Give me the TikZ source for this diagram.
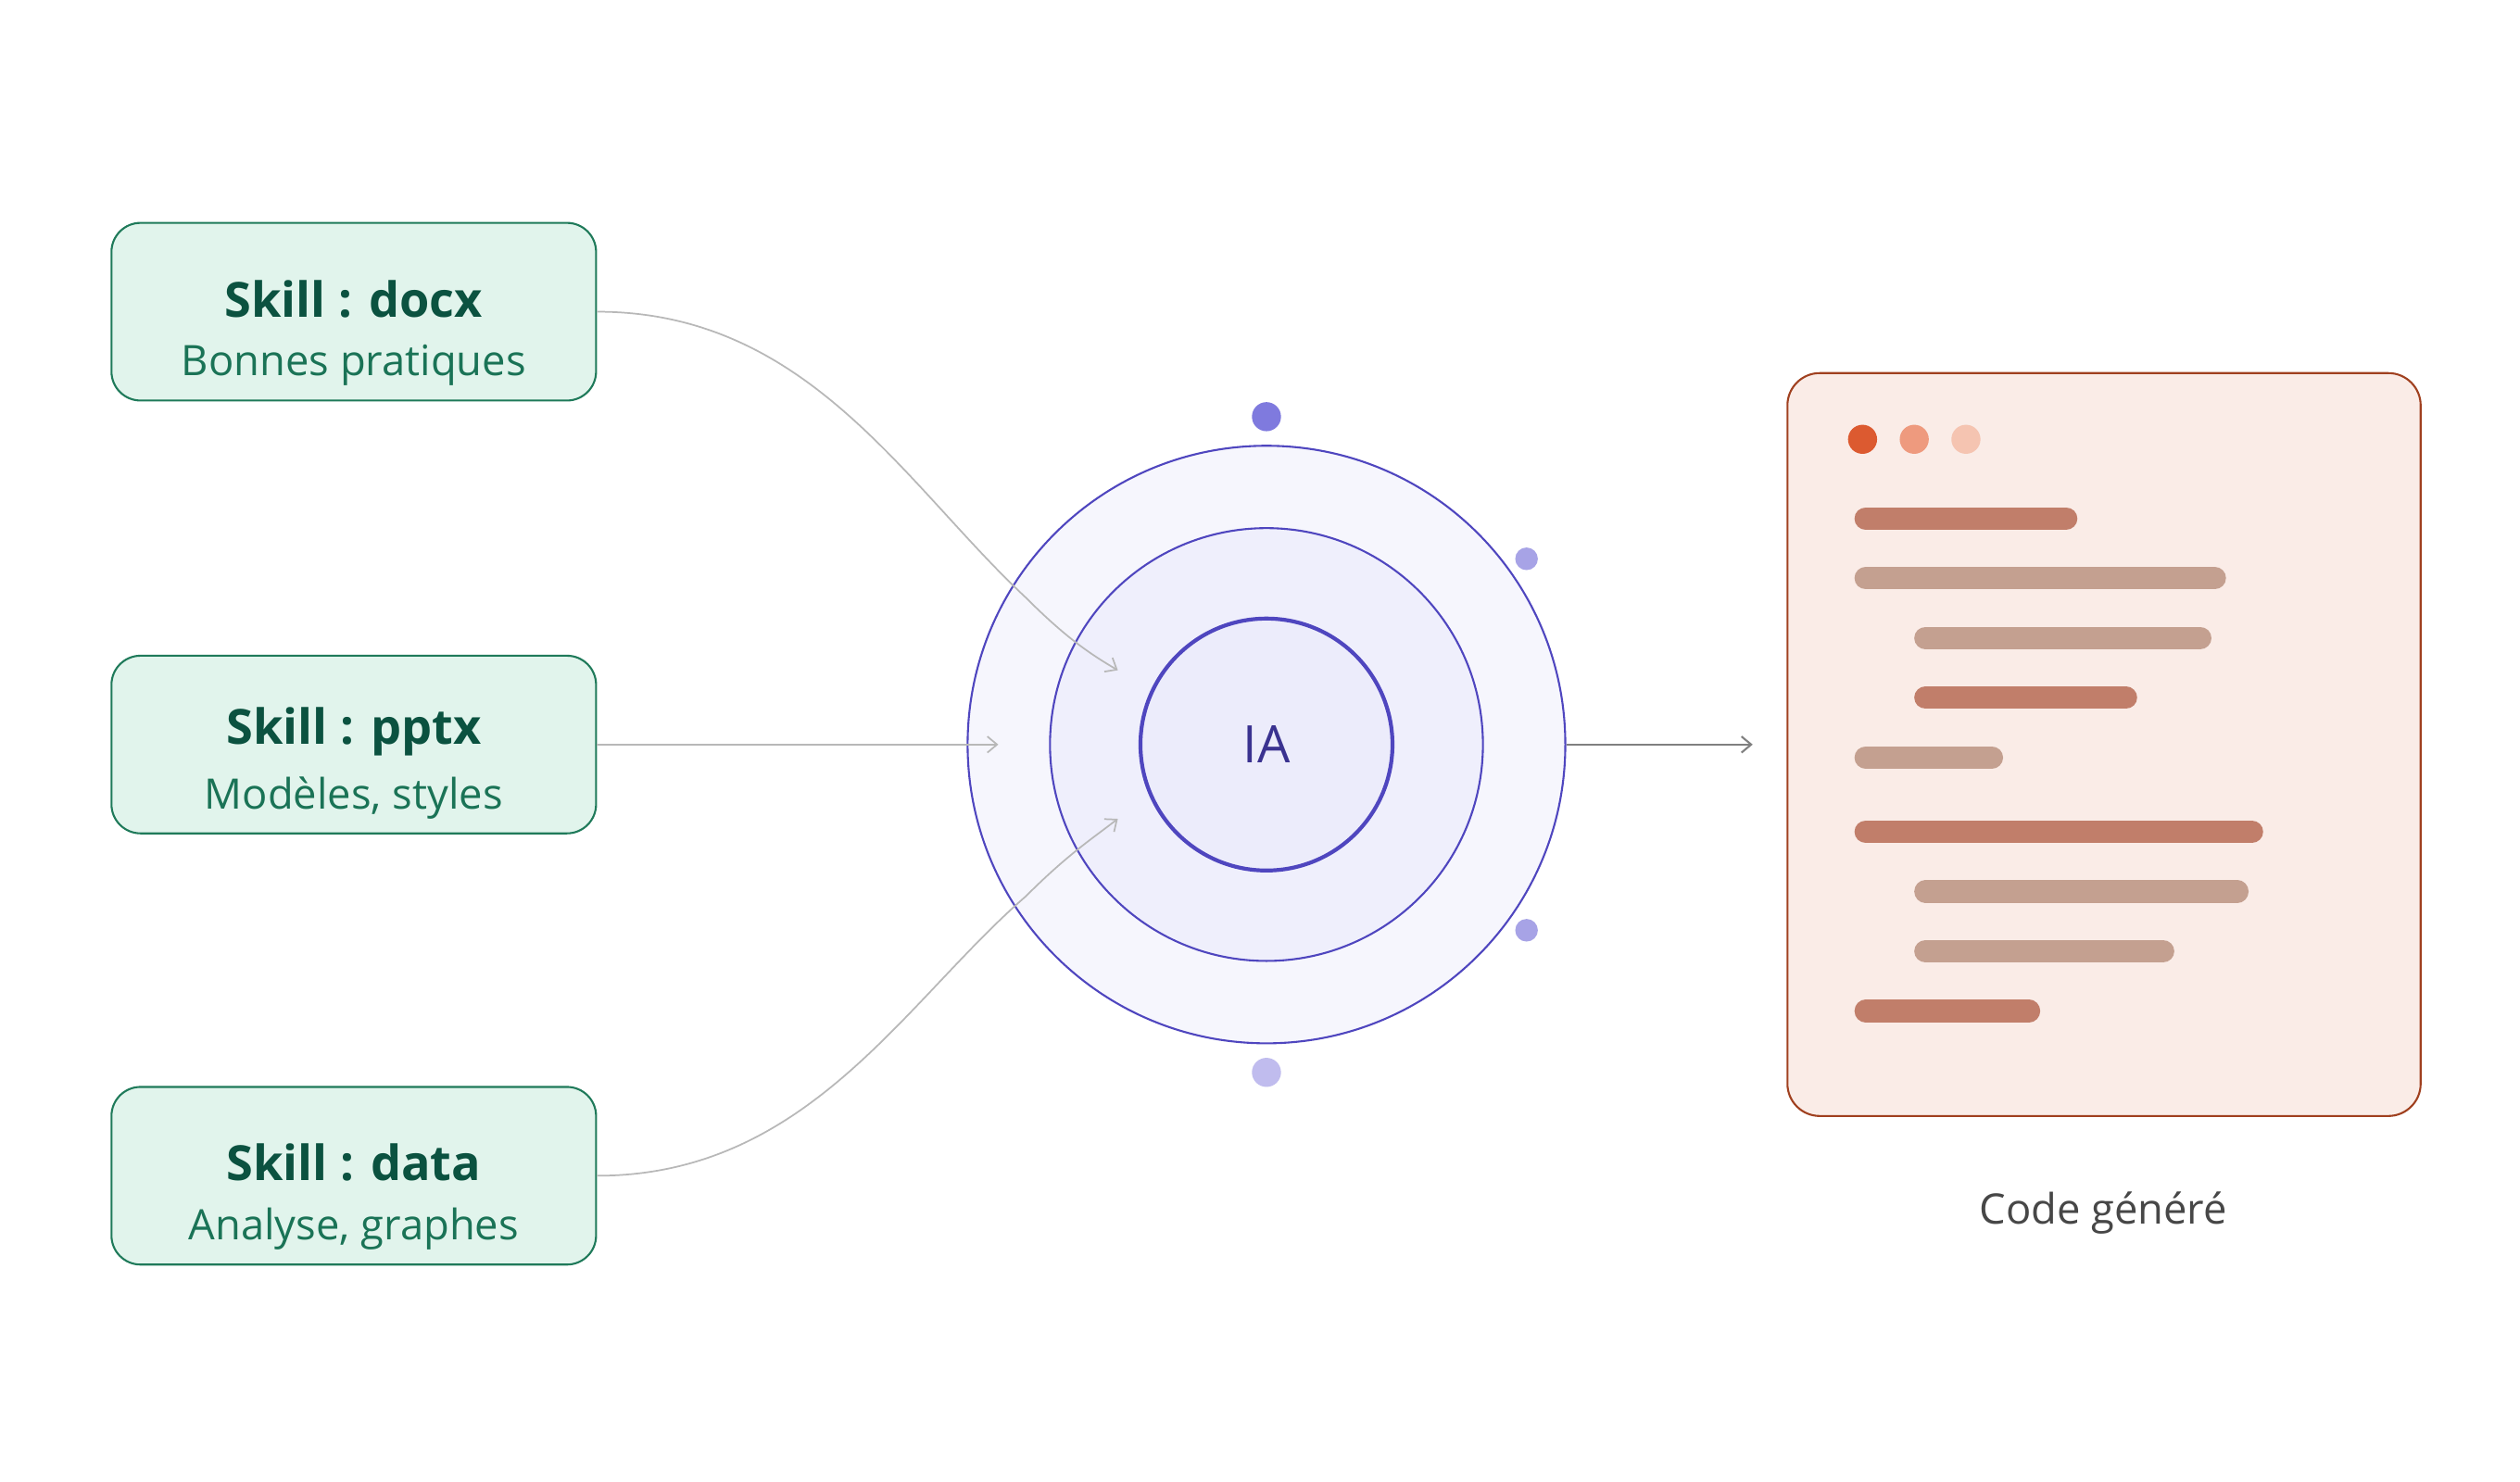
\documentclass[tikz,border=0pt]{standalone}
\usepackage{fontspec}
\setmainfont{Open Sans}
\usetikzlibrary{arrows.meta}
\definecolor{gfill}{HTML}{E1F4EC}\definecolor{gdraw}{HTML}{1F7A5A}
\definecolor{gtitle}{HTML}{0B5240}\definecolor{gsub}{HTML}{1A7356}
\definecolor{c1}{HTML}{F6F6FD}\definecolor{c2}{HTML}{EFEFFC}\definecolor{c3}{HTML}{ECECFB}
\definecolor{cd}{HTML}{4F46BF}\definecolor{ctext}{HTML}{3A3290}
\definecolor{d1}{HTML}{7F7ADE}\definecolor{d2}{HTML}{A7A3E6}\definecolor{d3}{HTML}{C0BCEE}
\definecolor{wfill}{HTML}{FAECE7}\definecolor{wdraw}{HTML}{A0401F}
\definecolor{b1}{HTML}{DC5A30}\definecolor{b2}{HTML}{EE9A7E}\definecolor{b3}{HTML}{F5C4B1}
\definecolor{bd}{HTML}{C17E6A}\definecolor{bl}{HTML}{C4A090}
\begin{document}
\begin{tikzpicture}[x=0.5pt,y=-0.5pt,
 skill/.style={draw=gdraw,fill=gfill,rounded corners=9pt,minimum width=150pt,minimum height=55pt,line width=0.6pt},
 conn/.style={draw=black!28,line width=0.5pt,-{Straight Barb[length=3pt,width=5pt]}},
 bar/.style={line width=7pt,line cap=round},
 dot/.style={circle,inner sep=0pt}]
\useasboundingbox[fill=white] (0,0) rectangle (1560,917.6);
\foreach \n/\y/\t/\s in {docx/193/docx/Bonnes pratiques, pptx/461/pptx/{Modèles, styles}, data/728/data/{Analyse, graphes}}{
 \node[skill] (\n) at (219,\y) {};
 \node[text=gtitle,font=\fontsize{15}{18}\selectfont\bfseries] at (219,\y-8) {Skill : \t};
 \node[text=gsub,font=\fontsize{13}{16}\selectfont] at (219,\y+33) {\s};
}
\node[circle,draw=cd,fill=c1,minimum size=185pt,line width=0.6pt] (outer) at (784,461) {};
\node[circle,draw=cd,fill=c2,minimum size=134pt,line width=0.6pt] (mid) at (784,461) {};
\node[circle,draw=cd,fill=c3,minimum size=78pt,line width=1.2pt,text=ctext,font=\fontsize{16}{18}\selectfont] (ia) at (784,461) {IA};
\node[dot,fill=d1,minimum size=9pt] (p1) at (784,258) {};
\node[dot,fill=d2,minimum size=7pt] (p2) at (945,346) {};
\node[dot,fill=d2,minimum size=7pt] (p3) at (945,576) {};
\node[dot,fill=d3,minimum size=9pt] (p4) at (784,664) {};
\coordinate (e1) at (692,415);\coordinate (e2) at (618,461);\coordinate (e3) at (692,507);
\draw[conn] (docx.east) .. controls (500,193) and (560,300) .. (635,370) .. controls (660,395) and (675,405) .. (e1);
\draw[conn] (pptx.east) -- (e2);
\draw[conn] (data.east) .. controls (500,728) and (560,620) .. (635,555) .. controls (660,530) and (675,520) .. (e3);
\node[draw=wdraw,fill=wfill,rounded corners=10pt,minimum width=196pt,minimum height=230pt,line width=0.6pt] (win) at (1302.5,461) {};
\coordinate (o) at (1085,461);
\draw[draw=black!50,line width=0.6pt,-{Straight Barb[length=3pt,width=5pt]}] (outer.east) -- (o);
\node[dot,fill=b1,minimum size=9pt] at (1153,272) {};
\node[dot,fill=b2,minimum size=9pt] at (1185,272) {};
\node[dot,fill=b3,minimum size=9pt] at (1217,272) {};
\foreach \a/\b/\y/\c in {1148/1286/321/bd,1148/1378/358/bl,1185/1369/395/bl,1185/1323/432/bd,1148/1240/469/bl,1148/1401/515/bd,1185/1392/552/bl,1185/1346/589/bl,1148/1263/626/bd}
 \draw[bar,\c] (\a+7,\y) -- (\b-7,\y);
\node[text=black!72,font=\fontsize{13}{16}\selectfont] (lbl) at (1302,751) {Code généré};
\end{tikzpicture}
\end{document}
